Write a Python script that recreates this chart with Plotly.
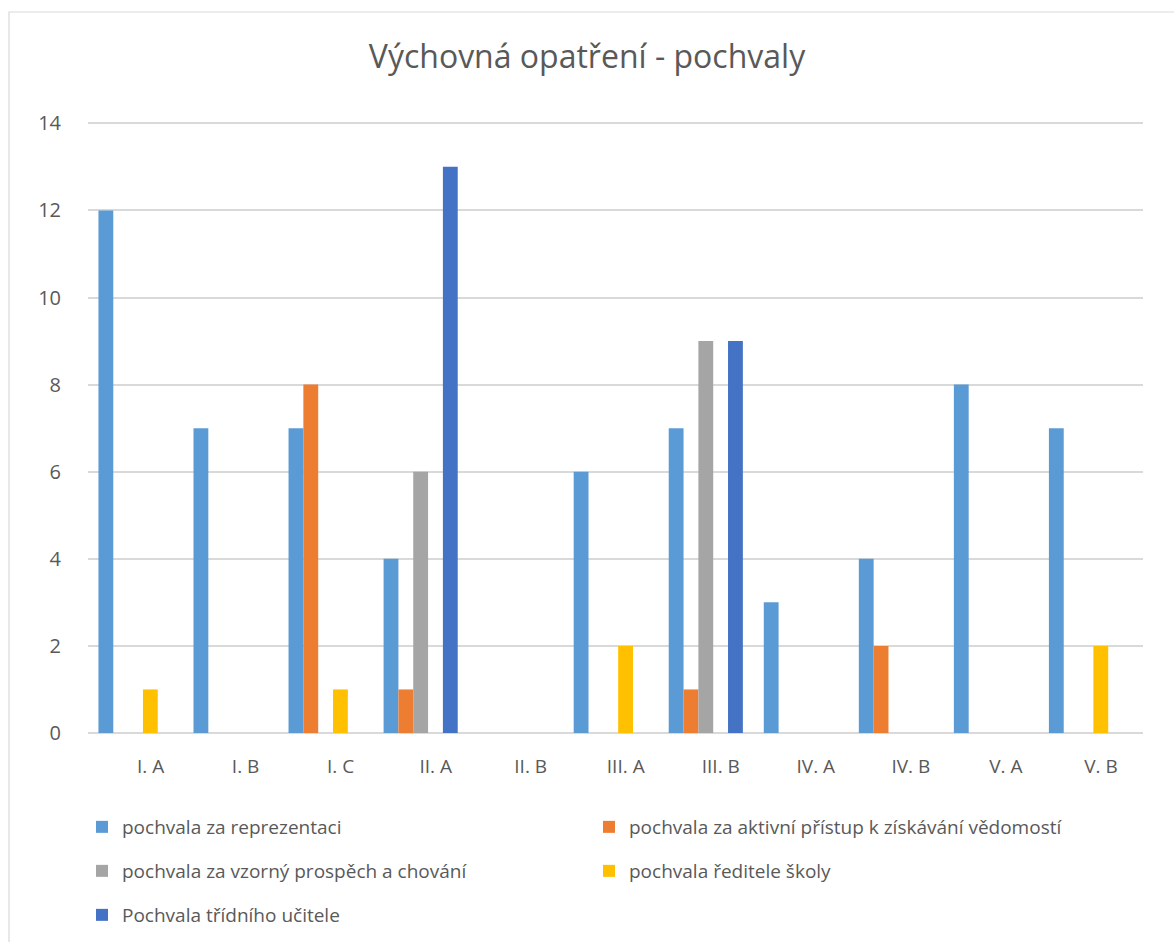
import plotly.graph_objects as go

categories = ["I. A", "I. B", "I. C", "II. A", "II. B", "III. A", "III. B", "IV. A", "IV. B", "V. A", "V. B"]

reprezentace = [12, 7, 7, 4, 0, 6, 7, 3, 4, 8, 7]
aktivni_pristup = [0, 0, 8, 1, 0, 0, 1, 0, 2, 0, 0]
vzorny_prospech = [0, 0, 0, 6, 0, 0, 9, 0, 0, 0, 0]
reditel = [1, 0, 1, 0, 0, 2, 0, 0, 0, 0, 2]
tridni_ucitel = [0, 0, 0, 13, 0, 0, 9, 0, 0, 0, 0]

series_names = [
    "pochvala za reprezentaci",
    "pochvala za aktivní přístup k získávání vědomostí",
    "pochvala za vzorný prospěch a chování",
    "pochvala ředitele školy",
    "Pochvala třídního učitele",
]
series_values = [reprezentace, aktivni_pristup, vzorny_prospech, reditel, tridni_ucitel]
colors = ["#5B9BD5", "#ED7D31", "#A5A5A5", "#FFC000", "#4472C4"]
legend_ids = ["legend", "legend", "legend2", "legend2", "legend3"]

fig = go.Figure()
for name, vals, col, lg in zip(series_names, series_values, colors, legend_ids):
    fig.add_trace(go.Bar(
        x=categories, y=vals, name=name,
        marker=dict(color=col, line=dict(width=0)),
        legend=lg,
    ))

W, H = 1174, 942
left, right, top, bottom = 88, 31, 122, 209
plot_h = H - top - bottom

def py(pix):
    return (H - bottom - pix) / plot_h

def px(pix):
    return (pix - left) / (W - left - right)

font_family = "Open Sans, Segoe UI, sans-serif"
txt = "#595959"

legend_common = dict(
    orientation="h", entrywidth=462, entrywidthmode="pixels",
    xanchor="left", yanchor="middle",
    font=dict(family=font_family, size=19, color=txt),
    bgcolor="rgba(0,0,0,0)", traceorder="normal",
)

fig.update_layout(
    width=W, height=H,
    margin=dict(l=left, r=right, t=top, b=bottom, autoexpand=False),
    paper_bgcolor="white", plot_bgcolor="white",
    barmode="group", bargap=0.22, bargroupgap=0,
    title=dict(text="Výchovná opatření - pochvaly", x=0.5, xanchor="center",
               y=1 - 57 / H, yanchor="middle",
               font=dict(family=font_family, size=32, color=txt)),
    legend=dict(x=px(82), y=py(827), **legend_common),
    legend2=dict(x=px(82), y=py(871), **legend_common),
    legend3=dict(x=px(82), y=py(915), **legend_common),
    xaxis=dict(
        type="category", range=[-0.5, 10.6],
        showgrid=False, showline=False, zeroline=False, ticks="",
        tickfont=dict(family=font_family, size=19, color=txt),
        ticklabelstandoff=20, ticklabelshift=15,
    ),
    yaxis=dict(
        range=[0, 14.03], dtick=2, tick0=0,
        showgrid=True, gridcolor="#D9D9D9", gridwidth=1.5,
        zeroline=True, zerolinecolor="#D9D9D9", zerolinewidth=1.5,
        showline=False, ticks="",
        tickfont=dict(family=font_family, size=20, color=txt),
        ticklabelstandoff=26,
    ),
    showlegend=True,
)

fig.add_shape(type="rect", xref="paper", yref="paper",
              x0=px(9), x1=px(W + 20), y0=py(H + 20), y1=py(12),
              line=dict(color="#D9D9D9", width=1.2), fillcolor="rgba(0,0,0,0)", layer="below")

fig.write_html("out.html", config={"displayModeBar": False},
               post_script="document.body.style.margin='0';document.body.style.overflow='hidden';")
